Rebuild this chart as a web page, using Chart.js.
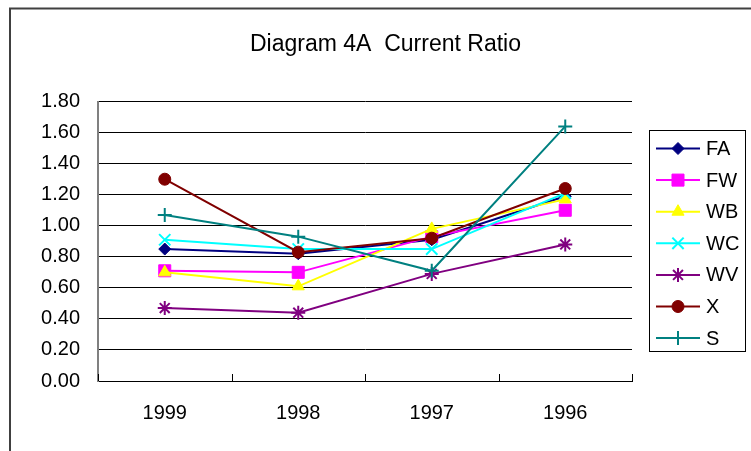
<!DOCTYPE html>
<html><head><meta charset="utf-8">
<script src="https://cdn.jsdelivr.net/npm/chart.js@4"></script>
<style>html,body{margin:0;padding:0;background:#fff}#wrap{width:751px;height:451px}</style>
</head><body><div id="wrap"><canvas id="c" width="751" height="451"></canvas></div>
<script>
// ---- data ----
const categories = ['1999', '1998', '1997', '1996'];
const FA = [0.85, 0.82, 0.91, 1.19];
const FW = [0.71, 0.70, 0.93, 1.10];
const WB = [0.70, 0.61, 0.98, 1.17];
const WC = [0.91, 0.85, 0.85, 1.21];
const WV = [0.47, 0.44, 0.69, 0.88];
const X  = [1.30, 0.83, 0.92, 1.24];
const S  = [1.07, 0.93, 0.71, 1.64];
const seriesNames = ['FA', 'FW', 'WB', 'WC', 'WV', 'X', 'S'];
const seriesValues = [FA, FW, WB, WC, WV, X, S];
const yMin = 0, yMax = 1.8, yStep = 0.2;
const titleText = 'Diagram 4A  Current Ratio';

// ---- styles ----
const FONT = "'Liberation Sans', Arial, Helvetica, sans-serif";
const styles = [
  {color: '#000080', style: 'rectRot',  radius: 6,   bw: 1},
  {color: '#FF00FF', style: 'rect',     radius: 8.5, bw: 1},
  {color: '#FFFF00', style: 'triangle', radius: 7,   bw: 1},
  {color: '#00FFFF', style: 'crossRot', radius: 8,   bw: 2},
  {color: '#800080', style: 'star',     radius: 7,   bw: 2},
  {color: '#800000', style: 'circle',   radius: 6,   bw: 1},
  {color: '#008080', style: 'cross',    radius: 7,   bw: 2}
];

const datasets = seriesNames.map((name, i) => ({
  label: name,
  data: seriesValues[i],
  yAxisID: 'y',
  borderColor: styles[i].color,
  backgroundColor: styles[i].color,
  borderWidth: 2,
  tension: 0,
  pointStyle: styles[i].style,
  pointRadius: styles[i].radius,
  pointHoverRadius: styles[i].radius,
  pointBorderWidth: styles[i].bw,
  pointBackgroundColor: styles[i].color,
  pointBorderColor: styles[i].color,
  order: seriesNames.length - i
}));

function drawMarker(ctx, st, x, y) {
  ctx.save();
  ctx.fillStyle = st.color;
  ctx.strokeStyle = st.color;
  ctx.lineWidth = st.bw;
  Chart.helpers.drawPoint(ctx, {pointStyle: st.style, radius: st.radius, borderWidth: st.bw, rotation: 0}, x, y);
  ctx.restore();
}

const framePlugin = {
  id: 'frame',
  beforeDraw(chart) {
    const ctx = chart.ctx;
    ctx.save();
    ctx.fillStyle = '#fff';
    ctx.fillRect(0, 0, chart.width, chart.height);
    ctx.strokeStyle = '#404040';
    ctx.lineWidth = 2;
    ctx.strokeRect(10, 8.5, 800, 500);
    ctx.restore();
  },
  afterDraw(chart) {
    const ctx = chart.ctx;
    const xs = chart.scales.x;
    const bottom = chart.chartArea.bottom;
    ctx.save();
    // inward tick marks on category axis
    ctx.strokeStyle = '#000';
    ctx.lineWidth = 1;
    for (let i = 0; i <= categories.length; i++) {
      const px = Math.round(xs.getPixelForValue(i - 0.5)) + 0.5;
      ctx.beginPath();
      ctx.moveTo(px, bottom);
      ctx.lineTo(px, bottom - 7);
      ctx.stroke();
    }
    // legend
    ctx.strokeStyle = '#000';
    ctx.lineWidth = 1;
    ctx.strokeRect(649.5, 130.5, 96, 221);
    ctx.font = '20px ' + FONT;
    ctx.textBaseline = 'middle';
    ctx.textAlign = 'left';
    seriesNames.forEach((name, i) => {
      const y = 148.5 + i * 31.6;
      const st = styles[i];
      ctx.strokeStyle = st.color;
      ctx.lineWidth = 2;
      ctx.beginPath();
      ctx.moveTo(656, y);
      ctx.lineTo(700, y);
      ctx.stroke();
      drawMarker(ctx, st, 678, y);
      ctx.fillStyle = '#000';
      ctx.fillText(name, 706, y + 1);
    });
    ctx.restore();
  }
};

new Chart(document.getElementById('c'), {
  type: 'line',
  data: {labels: categories, datasets: datasets},
  options: {
    responsive: false,
    animation: false,
    devicePixelRatio: 1,
    layout: {padding: {left: 20, right: 0, top: 0, bottom: 0}},
    plugins: {
      legend: {display: false},
      tooltip: {enabled: false},
      title: {
        display: true,
        text: titleText,
        color: '#000',
        font: {family: FONT, size: 23, weight: 'normal'},
        padding: {top: 31, bottom: 43}
      }
    },
    scales: {
      x: {
        type: 'category',
        offset: true,
        grid: {display: false, drawTicks: false},
        border: {display: true, color: '#000', width: 1},
        ticks: {color: '#000', font: {family: FONT, size: 20}, padding: 20, maxRotation: 0},
        afterFit(s) { s.height = 70; }
      },
      y: {
        position: 'left',
        min: yMin, max: yMax,
        grid: {color: '#000', lineWidth: 1, drawTicks: false},
        border: {display: true, color: '#808080', width: 2},
        ticks: {
          stepSize: yStep, color: '#000', padding: 18,
          font: {family: FONT, size: 20},
          callback: v => Number(v).toFixed(2)
        },
        afterFit(s) { s.width = 78; }
      },
      yR: {
        position: 'right',
        display: true,
        grid: {display: false, drawTicks: false},
        border: {display: false},
        ticks: {display: false},
        afterFit(s) { s.width = 119; }
      }
    }
  },
  plugins: [framePlugin]
});
</script>
</body></html>
